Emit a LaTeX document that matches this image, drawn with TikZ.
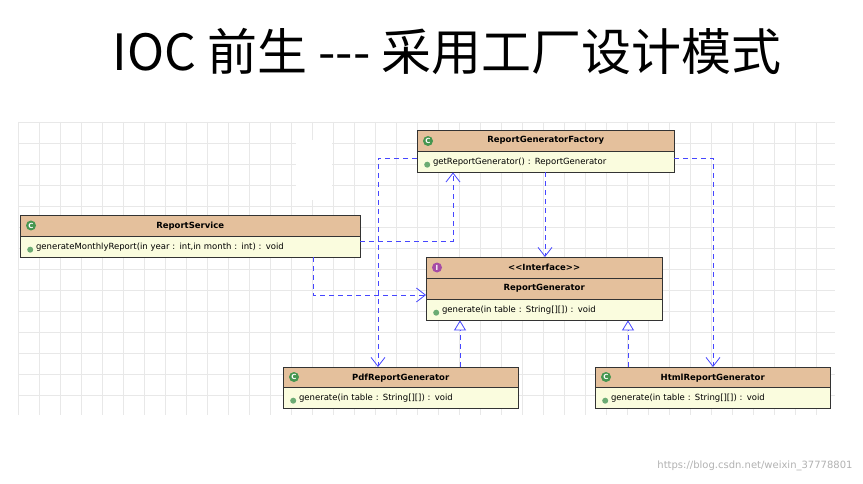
\documentclass[tikz,border=0pt]{standalone}
\usepackage{fontspec}
\setmainfont{DejaVu Sans}
\newfontfamily\cjk{Noto Sans CJK SC}
\usetikzlibrary{arrows.meta,positioning}
\definecolor{hdrc}{RGB}{228,192,156}
\definecolor{bodyc}{RGB}{250,252,222}
\definecolor{gridc}{RGB}{232,232,232}
\definecolor{depc}{RGB}{70,70,255}
\definecolor{icong}{RGB}{70,150,80}
\tikzset{
  hdr/.style={draw=black!80, fill=hdrc, anchor=north west, minimum height=21pt, inner sep=0pt, font=\fontsize{8.5}{9}\selectfont\bfseries},
  body/.style={draw=black!80, fill=bodyc, anchor=north west, minimum height=21pt, inner sep=0pt, align=left, text depth=0pt, font=\fontsize{8.5}{9}\selectfont},
  dep/.style={draw=depc, thick, dash pattern=on 5pt off 4pt, -{Straight Barb[length=9pt,width=14pt]}},
  real/.style={draw=depc, thick, dash pattern=on 5pt off 4pt, -{Triangle[open,length=10pt,width=12pt,fill=white]}},
  cicon/.style={circle, fill=icong, text=white, inner sep=0pt, minimum size=10pt, font=\fontsize{7}{7}\selectfont\bfseries},
  iicon/.style={circle, fill=violet!70, text=white, inner sep=0pt, minimum size=10pt, font=\fontsize{7}{7}\selectfont\bfseries},
  dot/.style={circle, fill=icong!80, inner sep=0pt, minimum size=6pt}
}
\newcommand{\meth}[1]{\tikz[baseline=-2.5pt]\node[dot]{};\ #1}
\begin{document}
\begin{tikzpicture}[x=1pt,y=-1pt]
\useasboundingbox[fill=white] (0,0) rectangle (863,484);
% background grid
\foreach \x in {18,39,...,835} \draw[gridc] (\x,122) -- (\x,415);
\foreach \y in {122,143,...,415} \draw[gridc] (18,\y) -- (835,\y);
\fill[white] (296,140) rectangle (332,200);
% title
\node[font=\cjk\fontsize{50}{50}\selectfont] (title) at (447,52) {IOC 前生 --- 采用工厂设计模式};
% classes
\node[hdr, minimum width=257pt] (facH) at (417,130) {ReportGeneratorFactory};
\node[body, minimum width=257pt, text width=243pt] (facB) at (417,151) {\meth{getReportGenerator() : ReportGenerator}};
\node[hdr, minimum width=340pt] (srvH) at (20,215) {ReportService};
\node[body, minimum width=340pt, text width=326pt] (srvB) at (20,236) {\meth{generateMonthlyReport(in year : int,in month : int) : void}};
\node[hdr, minimum width=236pt] (genS) at (426,257) {<{}<Interface>{}>};
\node[hdr, minimum width=236pt] (genH) at (426,278) {ReportGenerator};
\node[body, minimum width=236pt, text width=222pt] (genB) at (426,299) {\meth{generate(in table : String[][]) : void}};
\node[hdr, minimum width=235pt] (pdfH) at (283,367) {PdfReportGenerator};
\node[body, minimum width=235pt, text width=221pt] (pdfB) at (283,387) {\meth{generate(in table : String[][]) : void}};
\node[hdr, minimum width=235pt] (htmH) at (595,367) {HtmlReportGenerator};
\node[body, minimum width=235pt, text width=221pt] (htmB) at (595,387) {\meth{generate(in table : String[][]) : void}};
% icons
\node[cicon] (facI) at (428,141) {C};
\node[cicon] (srvI) at (31,225.5) {C};
\node[iicon] (genI) at (437,267.5) {I};
\node[cicon] (pdfI) at (294,377) {C};
\node[cicon] (htmI) at (606,377) {C};
% connectors
\coordinate (c1) at (313,295);
\coordinate (c2) at (453,241);
\coordinate (c3) at (378,158);
\coordinate (c4) at (713,158);
\draw[dep] (srvB.south -| c1) -- (c1) -- (c1 -| genH.west);
\draw[dep] (srvB.east |- c2) -- (c2) -- (c2 |- facB.south);
\draw[dep] (facB.west |- c3) -- (c3) -- (c3 |- pdfH.north);
\draw[dep] (facB.east |- c4) -- (c4) -- (c4 |- htmH.north);
\draw[dep] (facB.south -| 545,0) -- (genS.north -| 545,0);
\draw[real] (pdfH.north -| 460,0) -- (genB.south -| 460,0);
\draw[real] (htmH.north -| 628,0) -- (genB.south -| 628,0);
% watermark
\node[text=black!30, font=\fontsize{10}{10}\selectfont, anchor=east] (wm) at (856,466) {https://blog.csdn.net/weixin\_37778801};
\end{tikzpicture}
\end{document}
